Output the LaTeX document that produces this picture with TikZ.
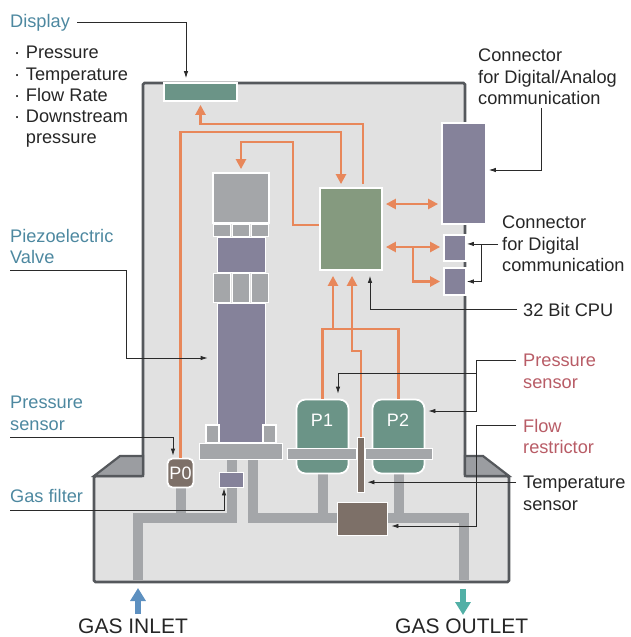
\documentclass[tikz,border=0pt]{standalone}
\usepackage{fontspec}
\setmainfont{Liberation Sans}
\usetikzlibrary{arrows.meta,backgrounds}

\definecolor{housing}{HTML}{E1E1E1}
\definecolor{wall}{HTML}{55585C}
\definecolor{flange}{HTML}{9B9DA1}
\definecolor{metal}{HTML}{A4A6A9}
\definecolor{violet}{HTML}{85829A}
\definecolor{sage}{HTML}{859A7F}
\definecolor{sea}{HTML}{6B9487}
\definecolor{umber}{HTML}{7D7068}
\definecolor{signal}{HTML}{E8875A}
\definecolor{tealtxt}{HTML}{4D88A0}
\definecolor{redtxt}{HTML}{B85C66}
\definecolor{inkline}{HTML}{2A2A2A}
\definecolor{inletblue}{HTML}{5D90C0}
\definecolor{outletteal}{HTML}{52B0A6}

\newcommand{\li}[1]{\makebox[11.7pt][l]{·}#1}

\tikzset{
  part/.style 2 args={draw=white,line width=1.8pt,inner sep=0pt,minimum width=#1pt,minimum height=#2pt},
  txt/.style={inner sep=0pt,anchor=north west,align=left,text=#1,font=\fontsize{18.2}{21.3}\selectfont},
  txt/.default=black!85,
  gas/.style={inner sep=0pt,anchor=north west,text=black!85,font=\fontsize{21}{24}\selectfont},
  tag/.style={inner sep=0pt,text=white,font=\fontsize{18}{21}\selectfont},
  sig/.style={draw=signal,line width=2.4pt},
  sigto/.style={sig,-{Triangle[length=10pt,width=10pt]},shorten >=3pt},
  sigboth/.style={sig,{Triangle[length=10pt,width=10pt]}-{Triangle[length=10pt,width=10pt]},shorten >=3pt,shorten <=3pt},
  lead/.style={draw=inkline,line width=.8pt,-{Latex[length=7pt,width=4.5pt]}},
  pipe/.style={draw=metal,line width=10pt},
  flow/.style={line width=6pt,-{Triangle[length=13pt,width=15pt]}}
}

\begin{document}
\begin{tikzpicture}[x=1pt,y=-1pt]
\useasboundingbox (0,0) rectangle (630,637);

% labels
\node[txt=tealtxt] (displaytxt) at (10,14) {Display};
\node[txt] (readtxt) at (14,46) {\li{Pressure}\\\li{Temperature}\\\li{Flow Rate}\\\li{Downstream}\\\hspace*{11.7pt}pressure};
\node[txt=tealtxt] (piezotxt) at (10,229) {Piezoelectric\\Valve};
\node[txt=tealtxt] (inpresstxt) at (10,396) {Pressure\\sensor};
\node[txt=tealtxt] (filtertxt) at (10,489) {Gas filter};
\node[txt] (dactxt) at (478,49) {Connector\\for Digital/Analog\\communication};
\node[txt] (digtxt) at (502,216) {Connector\\for Digital\\communication};
\node[txt] (cputxt) at (523,303) {32 Bit CPU};
\node[txt=redtxt] (presstxt) at (523,354) {Pressure\\sensor};
\node[txt=redtxt] (flowtxt) at (523,419) {Flow\\restrictor};
\node[txt] (temptxt) at (523,476) {Temperature\\sensor};
\node[gas] (inlettxt) at (78,619) {GAS INLET};
\node[gas] (outlettxt) at (395,619) {GAS OUTLET};

% electronics
\node[part={73}{18},fill=sea] (display) at (200.5,92) {};
\node[part={62}{82},fill=sage] (cpu) at (351,229) {};
\node[part={44}{101},fill=violet] (dac) at (464,173.5) {};
\node[part={22}{26},fill=violet] (dig1) at (455,248) {};
\node[part={22}{27},fill=violet] (dig2) at (455,281.5) {};

% valve
\node[part={56}{50},fill=metal] (vtop) at (241,198) {};
\node[part={17}{12},fill=metal] (vt1) at (222,230.5) {};
\node[part={17}{12},fill=metal] (vt2) at (241,230.5) {};
\node[part={17}{12},fill=metal] (vt3) at (260,230.5) {};
\node[part={48}{35},fill=violet] (vcoil) at (241.5,255) {};
\node[part={17}{29},fill=metal] (vm1) at (222,288) {};
\node[part={17}{29},fill=metal] (vm2) at (241,288) {};
\node[part={17}{29},fill=metal] (vm3) at (260,288) {};
\node[part={48}{139},fill=violet] (vlong) at (241.5,373) {};
\node[part={13}{18},fill=metal] (vfoot1) at (212.5,434) {};
\node[part={13}{18},fill=metal] (vfoot2) at (269.5,434) {};
\node[part={83}{16},fill=metal] (vbase) at (241,451.5) {};

% sensors
\node[part={26}{29},fill=umber,rounded corners=5pt] (p0) at (180.5,473) {};
\node[part={24}{15},fill=violet] (filter) at (231.5,480) {};
\node[part={52}{74},fill=sea,rounded corners=9pt] (p1) at (322.5,436.5) {};
\node[part={52}{74},fill=sea,rounded corners=9pt] (p2) at (398.5,436.5) {};
\node[part={69}{11},fill=metal] (bar1) at (322,454) {};
\node[part={67}{11},fill=metal] (bar2) at (399,454) {};
\node[part={7}{55},fill=umber] (tsens) at (361,465) {};
\node[part={50}{33},fill=umber] (restrict) at (362.5,519) {};
\node[tag] (p0txt) at (180.5,473) {P0};
\node[tag] (p1txt) at (322,420) {P1};
\node[tag] (p2txt) at (398,420) {P2};

% housing and gas path
\coordinate (inlet) at (138,580);
\coordinate (outlet) at (464,580);
\coordinate (inturn) at (232,518);
\coordinate (outturn) at (464,518);
\begin{pgfonlayer}{background}
\draw[draw=wall,fill=housing,line width=2.6pt,rounded corners=1.5pt] (143,83) -- (465,83) -- (465,476) -- (509,476) -- (509,582) -- (94,582) -- (94,476) -- (143,476) -- cycle;
\draw[draw=wall,fill=flange,line width=2.2pt] (94,476) -- (120,456) -- (143,456) -- (143,476) -- cycle;
\draw[draw=wall,fill=flange,line width=2.2pt] (509,476) -- (483,456) -- (465,456) -- (465,476) -- cycle;
\draw[pipe] (inlet) |- (inturn) -- ([xshift=-9pt]vbase.south);
\draw[pipe] ([xshift=12pt]vbase.south) |- (outturn) -- (outlet);
\draw[pipe] (p0.south) -- (p0.south |- inturn);
\draw[pipe] (p1.south) -- (p1.south |- outturn);
\draw[pipe] (p2.south) -- (p2.south |- outturn);
\end{pgfonlayer}

% signal lines
\coordinate (dispbend) at (200.5,124);
\coordinate (p0bend) at (341,132);
\coordinate (valvebend) at (293,142);
\coordinate (split) at (413,247);
\coordinate (sumbus) at (333,329);
\coordinate (tbend) at (352,351);
\draw[sigto,shorten <=3pt] ([xshift=12pt]cpu.north) |- (dispbend) -- (display.south);
\draw[sigto] (p0.north) |- (p0bend) -- ([xshift=-10pt]cpu.north);
\draw[sigto] ([yshift=4pt]cpu.west) -| (valvebend) -| (vtop.north);
\draw[sigboth] ([yshift=25pt]cpu.east) -- ([yshift=25pt]cpu.east -| dac.west);
\draw[sigboth] (cpu.east |- split) -- (dig1.west |- split);
\draw[sigto] (split) |- (dig2.west);
\draw[sig] (p1.north) |- (sumbus) -| (p2.north);
\draw[sigto,shorten >=5pt] (sumbus) -- ([xshift=-18pt]cpu.south);
\draw[sigto,shorten >=5pt] (tsens.north) |- (tbend) -- ([xshift=1pt]cpu.south);

% leaders
\coordinate (piezobend) at (126,358);
\coordinate (digbend) at (481,244);
\coordinate (pressbend) at (476,373);
\coordinate (presscorner) at (476,411);
\coordinate (flowbend) at (476,526);
\draw[lead,shorten <=7pt,shorten >=4pt] (displaytxt.east) -| ([xshift=-14.5pt]display.north);
\draw[lead] ([yshift=-6.5pt]piezotxt.south west) -| (piezobend) -- ([shift={(-9pt,15pt)}]vlong.west);
\draw[lead,shorten >=2pt] ([yshift=-7pt]inpresstxt.south west) -| ([xshift=-7.5pt]p0.north);
\draw[lead] ([yshift=-8pt]filtertxt.south west) -| ([xshift=-7.5pt]filter.south);
\draw[lead,shorten <=3pt,shorten >=2pt] ([xshift=-6pt]dactxt.south) |- ([yshift=3.5pt]dac.east);
\draw[lead,shorten <=4pt] (digtxt.west) -- (digtxt.west -| dig1.east);
\draw[lead] (digbend) |- (dig2.east);
\draw[lead,shorten <=6pt,shorten >=5pt] (cputxt.west) -| ([xshift=19pt]cpu.south);
\draw[lead,shorten <=7pt,shorten >=3pt] ([yshift=11pt]presstxt.west) -| (presscorner) -- ([yshift=25.5pt]p2.east);
\draw[lead,shorten >=5pt] (pressbend) -| ([xshift=15.5pt]p1.north);
\draw[lead,shorten <=7pt,shorten >=3pt] ([yshift=11pt]flowtxt.west) -| (flowbend) -- ([yshift=-7pt]restrict.east);
\draw[lead,shorten <=7pt,shorten >=2pt] ([yshift=11pt]temptxt.west) -- ([yshift=11pt]temptxt.west -| tsens.east);

% gas arrows
\coordinate (inbot) at (138,614);
\coordinate (intip) at (138,588);
\coordinate (outtop) at (463,589);
\coordinate (outtip) at (463,615);
\draw[flow,draw=inletblue] (inbot) -- (intip);
\draw[flow,draw=outletteal] (outtop) -- (outtip);
\end{tikzpicture}
\end{document}
